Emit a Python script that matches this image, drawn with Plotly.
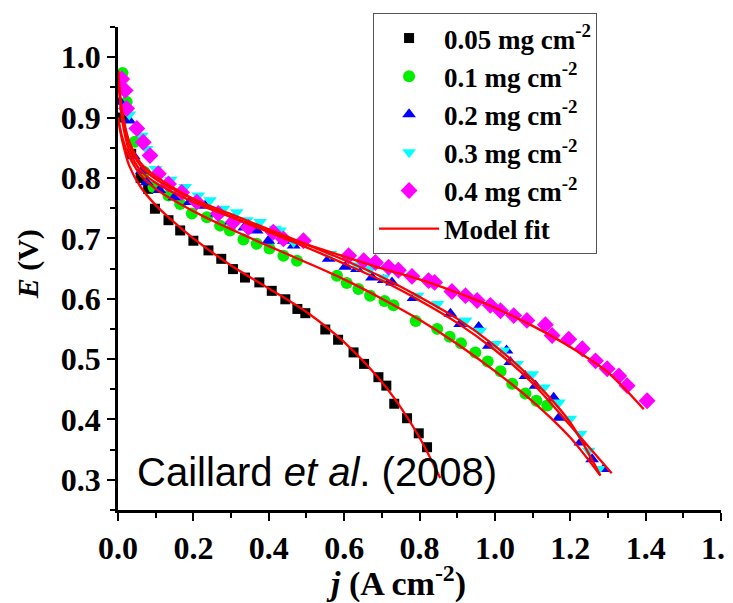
import plotly.graph_objects as go

# ---------------- data ----------------
j_005 = [0.01, 0.035, 0.06, 0.080, 0.098, 0.134, 0.165, 0.200, 0.240, 0.274, 0.305, 0.337, 0.375,
         0.408, 0.444, 0.476, 0.497, 0.550, 0.584, 0.625, 0.653, 0.691, 0.712, 0.733, 0.767,
         0.798, 0.820]
E_005 = [0.90, 0.84, 0.80, 0.782, 0.749, 0.730, 0.713, 0.696, 0.680, 0.666, 0.649, 0.635, 0.627,
         0.613, 0.599, 0.583, 0.576, 0.549, 0.532, 0.511, 0.492, 0.470, 0.456, 0.426, 0.402,
         0.377, 0.354]

j_01 = [0.012, 0.023, 0.045, 0.07, 0.094, 0.134, 0.165, 0.196, 0.236, 0.271, 0.297, 0.333, 0.368,
        0.402, 0.439, 0.475, 0.581, 0.607, 0.638, 0.669, 0.707, 0.731, 0.790, 0.847, 0.880,
        0.910, 0.948, 0.981, 1.015, 1.046, 1.081, 1.110, 1.139]
E_01 = [0.974, 0.926, 0.86, 0.81, 0.785, 0.771, 0.757, 0.741, 0.735, 0.721, 0.713, 0.698, 0.691,
        0.683, 0.671, 0.663, 0.638, 0.626, 0.616, 0.605, 0.596, 0.589, 0.563, 0.550, 0.537,
        0.526, 0.511, 0.496, 0.480, 0.459, 0.443, 0.431, 0.423]

j_02 = [0.005, 0.030, 0.042, 0.063, 0.076, 0.11, 0.15, 0.19, 0.231, 0.262, 0.300, 0.335, 0.368,
        0.399, 0.440, 0.466, 0.559, 0.603, 0.634, 0.674, 0.705, 0.727, 0.784, 0.882, 0.908,
        0.957, 0.984, 1.031, 1.041, 1.081, 1.108, 1.156, 1.170, 1.227, 1.258, 1.289]
E_02 = [0.926, 0.895, 0.836, 0.812, 0.793, 0.780, 0.768, 0.760, 0.754, 0.741, 0.728, 0.718, 0.713,
        0.696, 0.696, 0.688, 0.666, 0.653, 0.649, 0.635, 0.631, 0.627, 0.601, 0.575, 0.558,
        0.553, 0.522, 0.514, 0.495, 0.472, 0.456, 0.436, 0.403, 0.362, 0.334, 0.318]

j_03 = [0.005, 0.030, 0.063, 0.076, 0.10, 0.14, 0.178, 0.213, 0.244, 0.280, 0.315, 0.342, 0.377,
        0.417, 0.430, 0.466, 0.563, 0.634, 0.669, 0.705, 0.795, 0.848, 0.922, 0.961, 1.001,
        1.024, 1.059, 1.099, 1.130, 1.170, 1.200, 1.227, 1.249, 1.276]
E_03 = [0.951, 0.905, 0.870, 0.848, 0.815, 0.797, 0.785, 0.771, 0.763, 0.749, 0.743, 0.730, 0.727,
        0.716, 0.713, 0.694, 0.674, 0.655, 0.649, 0.635, 0.605, 0.591, 0.564, 0.547, 0.525,
        0.514, 0.492, 0.475, 0.453, 0.428, 0.401, 0.376, 0.348, 0.318]

j_04 = [0.010, 0.019, 0.023, 0.050, 0.067, 0.085, 0.107, 0.134, 0.169, 0.209, 0.266, 0.306, 0.346,
        0.412, 0.439, 0.492, 0.612, 0.652, 0.683, 0.718, 0.744, 0.780, 0.824, 0.840, 0.886,
        0.922, 0.953, 0.988, 1.015, 1.050, 1.085, 1.134, 1.152, 1.196, 1.232, 1.267, 1.298,
        1.329, 1.351, 1.404]
E_04 = [0.964, 0.945, 0.915, 0.882, 0.859, 0.837, 0.807, 0.790, 0.776, 0.760, 0.741, 0.727, 0.718,
        0.710, 0.699, 0.696, 0.671, 0.663, 0.660, 0.652, 0.647, 0.637, 0.630, 0.627, 0.612,
        0.605, 0.597, 0.589, 0.580, 0.572, 0.564, 0.557, 0.539, 0.533, 0.517, 0.497, 0.484,
        0.472, 0.456, 0.431]

# model fit curves
fit_j_005 = [0.0, 0.01, 0.03, 0.06, 0.10, 0.15, 0.20, 0.30, 0.40, 0.50, 0.60, 0.70, 0.75, 0.80, 0.855]
fit_E_005 = [0.90, 0.865, 0.82, 0.785, 0.755, 0.726, 0.700, 0.655, 0.617, 0.578, 0.528, 0.462,
             0.42, 0.37, 0.303]
fit_j_01 = [0.0, 0.01, 0.03, 0.06, 0.10, 0.20, 0.30, 0.40, 0.50, 0.60, 0.70, 0.80, 0.90, 1.00,
            1.10, 1.20, 1.28]
fit_E_01 = [0.90, 0.87, 0.835, 0.805, 0.782, 0.745, 0.715, 0.687, 0.660, 0.632, 0.600, 0.565,
            0.525, 0.480, 0.430, 0.370, 0.307]
fit_j_02 = [0.0, 0.01, 0.03, 0.06, 0.10, 0.20, 0.30, 0.40, 0.50, 0.60, 0.70, 0.80, 0.90, 1.00,
            1.10, 1.20, 1.31]
fit_E_02 = [0.975, 0.90, 0.845, 0.812, 0.792, 0.760, 0.735, 0.710, 0.685, 0.658, 0.630, 0.597,
            0.560, 0.515, 0.460, 0.390, 0.311]
fit_j_03 = [0.0, 0.01, 0.03, 0.06, 0.10, 0.20, 0.30, 0.40, 0.50, 0.60, 0.70, 0.80, 0.90, 1.00,
            1.10, 1.20, 1.28]
fit_E_03 = [0.978, 0.91, 0.855, 0.82, 0.798, 0.765, 0.740, 0.715, 0.690, 0.664, 0.636, 0.603,
            0.567, 0.522, 0.466, 0.395, 0.307]
fit_j_04 = [0.0, 0.01, 0.03, 0.06, 0.10, 0.20, 0.30, 0.40, 0.50, 0.60, 0.70, 0.80, 0.90, 1.00,
            1.10, 1.20, 1.30, 1.395]
fit_E_04 = [0.978, 0.915, 0.86, 0.825, 0.803, 0.765, 0.736, 0.712, 0.690, 0.670, 0.650, 0.632,
            0.610, 0.585, 0.555, 0.520, 0.478, 0.417]

series_names = ["0.05 mg cm<sup>-2</sup>", "0.1 mg cm<sup>-2</sup>", "0.2 mg cm<sup>-2</sup>",
                "0.3 mg cm<sup>-2</sup>", "0.4 mg cm<sup>-2</sup>"]
x_ticks = [0.0, 0.2, 0.4, 0.6, 0.8, 1.0, 1.2, 1.4, 1.6]
y_ticks = [0.3, 0.4, 0.5, 0.6, 0.7, 0.8, 0.9, 1.0]

# ---------------- figure ----------------
serif = "Liberation Serif"
data_j = [j_005, j_01, j_02, j_03, j_04]
data_E = [E_005, E_01, E_02, E_03, E_04]
fits_j = [fit_j_005, fit_j_01, fit_j_02, fit_j_03, fit_j_04]
fits_E = [fit_E_005, fit_E_01, fit_E_02, fit_E_03, fit_E_04]
colors = ["#000000", "#00ee00", "#0000ff", "#00ffff", "#ff00ff"]
symbols = ["square", "circle", "triangle-up", "triangle-down", "diamond"]
sizes = [10, 12, 12, 12, 13]

fig = go.Figure()
for name, xs, ys, c, s, sz in zip(series_names, data_j, data_E, colors, symbols, sizes):
    fig.add_trace(go.Scatter(x=xs, y=ys, mode="markers", name=name,
                             marker=dict(color=c, symbol=s, size=sz, line=dict(width=0))))
for i, (xs, ys) in enumerate(zip(fits_j, fits_E)):
    fig.add_trace(go.Scatter(x=xs, y=ys, mode="lines", name="Model fit",
                             line=dict(color="#ff0000", width=2.3, shape="spline", smoothing=0.8),
                             showlegend=(i == 0), legendgroup="fit"))

axis_common = dict(
    showline=True, linecolor="black", linewidth=2.5, ticks="outside", ticklen=8, tickwidth=2,
    tickcolor="black", showgrid=False, zeroline=False,
    tickfont=dict(family=serif, size=32, color="black", weight="bold"),
)

fig.update_layout(
    width=725, height=595,
    margin=dict(l=110, r=12, t=19, b=93, autoexpand=False),
    plot_bgcolor="white", paper_bgcolor="white",
    xaxis=dict(range=[0, 1.6], tickvals=x_ticks, ticktext=[f"{v:.1f}" for v in x_ticks],
               minor=dict(dtick=0.1, ticks="outside", ticklen=5, tickwidth=2, tickcolor="black"),
               automargin=False, ticklabeloverflow="allow", **axis_common),
    yaxis=dict(range=[0.25, 1.05], tickvals=y_ticks, ticktext=[f"{v:.1f}" for v in y_ticks],
               minor=dict(dtick=0.05, ticks="outside", ticklen=5, tickwidth=2, tickcolor="black"),
               automargin=False, **axis_common),
    legend=dict(x=0.423, y=1.029, xanchor="left", yanchor="top",
                bgcolor="white", bordercolor="#555555", borderwidth=1,
                font=dict(family=serif, size=27, color="black", weight="bold"),
                itemwidth=60, tracegroupgap=0),
    showlegend=True,
)

# axis titles
fig.add_annotation(text="<b><i>j</i> (A cm<sup>-2</sup>)</b>", xref="paper", yref="paper",
                   x=0.461, y=-0.147, xanchor="center", yanchor="middle", showarrow=False,
                   font=dict(family=serif, size=34, color="black"))
fig.add_annotation(text="<b><i>E</i> (V)</b>", xref="paper", yref="paper",
                   x=-0.149, y=0.509, xanchor="center", yanchor="middle", showarrow=False,
                   textangle=-90, font=dict(family=serif, size=30, color="black"))

fig.add_annotation(text="Caillard <i>et al</i>. (2008)", xref="paper", yref="paper",
                   x=0.028, y=0.079, xanchor="left", yanchor="middle", showarrow=False,
                   font=dict(family="Liberation Sans", size=40, color="black"))

fig.write_html("out.html")
